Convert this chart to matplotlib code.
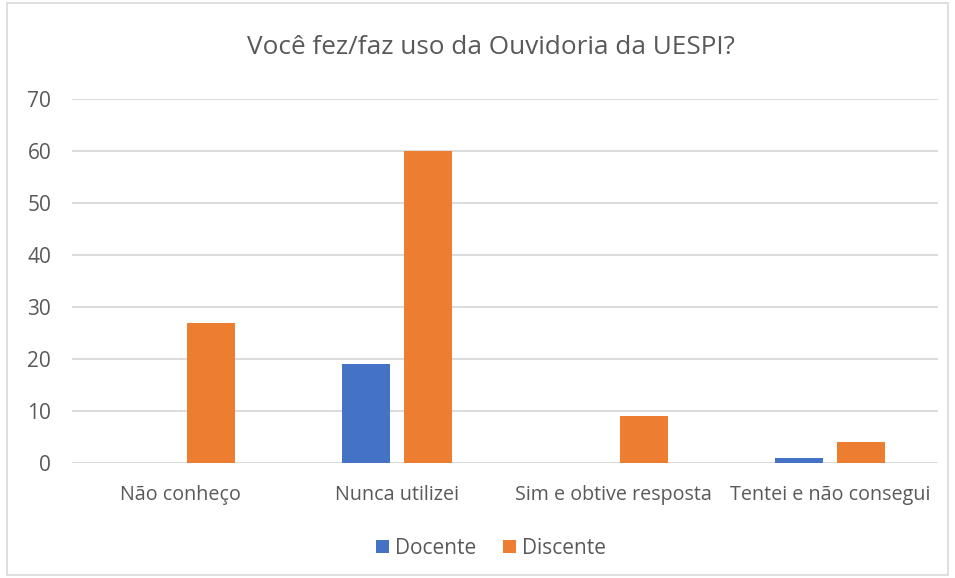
import matplotlib
matplotlib.use("Agg")
import matplotlib.pyplot as plt
from matplotlib.patches import Rectangle
import numpy as np

categories = ["Não conheço", "Nunca utilizei", "Sim e obtive resposta", "Tentei e não consegui"]
docente = [0, 19, 0, 1]
discente = [27, 60, 9, 4]
yticks = [0, 10, 20, 30, 40, 50, 60, 70]

plt.rcParams['font.family'] = ['Open Sans', 'DejaVu Sans']
txt = '#595959'

fig = plt.figure(figsize=(9.55, 5.78), dpi=100)
W, H = 955, 578
ax = fig.add_axes([72 / W, 1 - 463 / H, (938 - 72) / W, (463 - 99) / H])

x = np.arange(len(categories))
bw = 0.222
off = 0.143
ax.bar(x - off, docente, bw, color='#4472C4', label='Docente', zorder=3)
ax.bar(x + off, discente, bw, color='#ED7D31', label='Discente', zorder=3)

ax.set_xlim(-0.5, len(categories) - 0.5)
ax.set_ylim(0, 70)
ax.set_yticks(yticks)
ax.set_yticklabels([str(v) for v in yticks], fontsize=15, color=txt)
ax.set_xticks(x)
ax.set_xticklabels(categories, fontsize=14.2, color=txt)
ax.tick_params(axis='both', length=0)
ax.tick_params(axis='y', pad=15)
ax.tick_params(axis='x', pad=16)
ax.grid(axis='y', color='#D9D9D9', linewidth=1.3, zorder=0)
for s in ax.spines.values():
    s.set_visible(False)
ax.axhline(0, color='#D9D9D9', linewidth=1.3, zorder=2)

fig.text(491 / W, 1 - 47 / H, "Você fez/faz uso da Ouvidoria da UESPI?", ha='center', va='center',
         fontsize=18.8, color=txt)

leg = fig.legend(loc='center', bbox_to_anchor=(491 / W, 1 - 548 / H), ncol=2, frameon=False,
                 fontsize=15, handlelength=0.6, handleheight=0.6, handletextpad=0.3, columnspacing=1.3)
for t in leg.get_texts():
    t.set_color(txt)

fig.patches.append(Rectangle((7 / W, 3 / H), 941 / W, 572 / H, transform=fig.transFigure,
                             fill=False, edgecolor='#D9D9D9', linewidth=1.2))

fig.savefig('out.png', dpi=100)
